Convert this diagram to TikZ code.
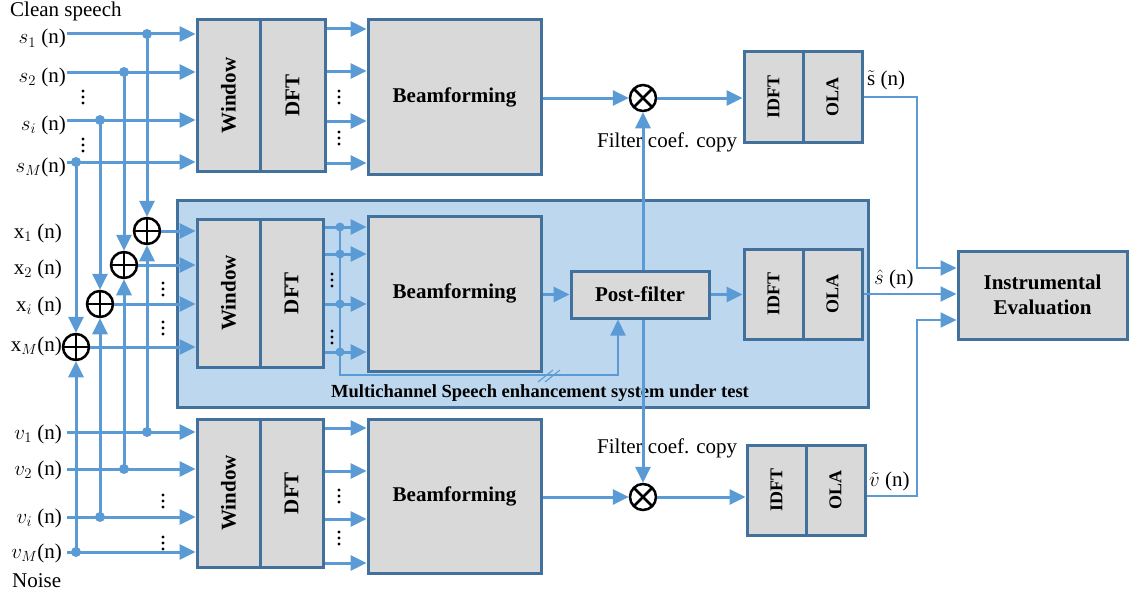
\RequirePackage{fix-cm}
\documentclass[tikz,border=0pt]{standalone}
\usepackage{fontspec}
\setmainfont{Liberation Serif}
\usepackage{graphicx}
\usetikzlibrary{arrows.meta,calc}

\definecolor{lineblue}{HTML}{5B9BD5}
\definecolor{boxedge}{HTML}{41719C}
\definecolor{boxgray}{HTML}{D9D9D9}
\definecolor{regionfill}{HTML}{BDD7EE}

\begin{document}
\begin{tikzpicture}[x=1pt,y=-1pt,
  arrowtip/.style={-{Triangle[length=16pt,width=15pt]}},
  sig/.style={draw=lineblue, line width=3pt, arrowtip},
  thinsig/.style={draw=lineblue, line width=2pt, arrowtip},
  box/.style={draw=boxedge, fill=boxgray, line width=3pt, inner sep=0pt,
    font=\bfseries\fontsize{21}{25}\selectfont},
  smallbox/.style={box, font=\bfseries\fontsize{18}{22}\selectfont},
  region/.style={draw=boxedge, fill=regionfill, line width=3pt, inner sep=0pt},
  lbl/.style={inner sep=0pt, font=\fontsize{21}{25}\selectfont},
  captext/.style={inner sep=0pt, font=\bfseries\fontsize{18.5}{22}\selectfont},
  adder/.style={circle, draw=black, line width=2.5pt, minimum size=26pt, inner sep=0pt,
    path picture={\draw[line width=2.5pt] (path picture bounding box.north) -- (path picture bounding box.south)
      (path picture bounding box.west) -- (path picture bounding box.east);}},
  mult/.style={circle, draw=black, line width=2.5pt, minimum size=26pt, inner sep=0pt,
    path picture={\draw[line width=2.5pt] (path picture bounding box.north west) -- (path picture bounding box.south east)
      (path picture bounding box.south west) -- (path picture bounding box.north east);}},
  jdot/.style={fill=lineblue},
  vdts/.pic={\foreach \k in {-6,0,6} \fill[black] (0,\k) circle (1.6pt);}
]
\fill[white] (0,0) rectangle (1129,594);
\useasboundingbox (0,0) rectangle (1129,594);

% system under test
\node[region, minimum width=691pt, minimum height=207pt] (sys) at (522.5,303.5) {};
\node[captext, anchor=base] (syscap) at (540,397) {Multichannel Speech enhancement system under test};

% analysis chains
\node[box, minimum width=63pt, minimum height=151pt] (win1) at (228.5,95.5) {\rotatebox{90}{Window}};
\node[box, minimum width=65pt, minimum height=151pt] (dft1) at (292.5,95.5) {\rotatebox{90}{DFT}};
\node[box, minimum width=173pt, minimum height=154pt] (bf1) at (454.5,97) {Beamforming};

\node[box, minimum width=63pt, minimum height=148pt] (win2) at (228.5,293) {\rotatebox{90}{Window}};
\node[box, minimum width=63pt, minimum height=148pt] (dft2) at (291.5,293) {\rotatebox{90}{DFT}};
\node[box, minimum width=173pt, minimum height=155pt] (bf2) at (454.5,293.5) {Beamforming};
\node[box, minimum width=138pt, minimum height=47pt] (pf) at (640,294.5) {Post-filter};

\node[box, minimum width=63pt, minimum height=148pt] (win3) at (228.5,493) {\rotatebox{90}{Window}};
\node[box, minimum width=63pt, minimum height=148pt] (dft3) at (291.5,493) {\rotatebox{90}{DFT}};
\node[box, minimum width=173pt, minimum height=154pt] (bf3) at (454.5,496) {Beamforming};

% synthesis
\node[smallbox, minimum width=59pt, minimum height=90pt] (idft1) at (773.5,97) {\rotatebox{90}{IDFT}};
\node[smallbox, minimum width=59pt, minimum height=90pt] (ola1) at (832.5,97) {\rotatebox{90}{OLA}};
\node[smallbox, minimum width=59pt, minimum height=90pt] (idft2) at (773.5,294) {\rotatebox{90}{IDFT}};
\node[smallbox, minimum width=59pt, minimum height=90pt] (ola2) at (832.5,294) {\rotatebox{90}{OLA}};
\node[smallbox, minimum width=59pt, minimum height=90pt] (idft3) at (776.5,490) {\rotatebox{90}{IDFT}};
\node[smallbox, minimum width=59pt, minimum height=90pt] (ola3) at (835.5,490) {\rotatebox{90}{OLA}};

\node[box, minimum width=169pt, minimum height=88pt, align=center] (ie) at (1042.5,295) {Instrumental\\Evaluation};

% texts
\node[lbl, anchor=base west] (tclean) at (10,17) {Clean speech};
\node[lbl, anchor=base west] (tnoise) at (12,587) {Noise};
\node[lbl, anchor=base east] (ls1) at (66,44) {$s_1$ (n)};
\node[lbl, anchor=base east] (ls2) at (66,82) {$s_2$ (n)};
\node[lbl, anchor=base east] (lsi) at (66,130) {$s_i$ (n)};
\node[lbl, anchor=base east] (lsM) at (66,172) {$s_M$(n)};
\node[lbl, anchor=base east] (lx1) at (62,238) {x$_1$ (n)};
\node[lbl, anchor=base east] (lx2) at (62,274) {x$_2$ (n)};
\node[lbl, anchor=base east] (lxi) at (62,311) {x$_i$ (n)};
\node[lbl, anchor=base east] (lxM) at (62,351) {x$_M$(n)};
\node[lbl, anchor=base east] (lv1) at (62,439) {$v_1$ (n)};
\node[lbl, anchor=base east] (lv2) at (62,475) {$v_2$ (n)};
\node[lbl, anchor=base east] (lvi) at (62,523) {$v_i$ (n)};
\node[lbl, anchor=base east] (lvM) at (62,558) {$v_M$(n)};
\node[lbl, anchor=base west] (fc1) at (597,147) {Filter coef. copy};
\node[lbl, anchor=base west] (fc2) at (597,453) {Filter coef. copy};
\node[lbl, anchor=base west] (lso) at (867,85) {$\tilde{\mathrm{s}}$ (n)};
\node[lbl, anchor=base west] (lsh) at (874,284) {$\hat{s}$ (n)};
\node[lbl, anchor=base west] (lvo) at (869,486) {$\tilde{v}$ (n)};

% adders and multipliers
\node[adder] (a1) at (147,231) {};
\node[adder] (a2) at (124,265) {};
\node[adder] (ai) at (100,304) {};
\node[adder] (aM) at (76,347) {};
\node[mult] (mt) at (643,98) {};
\node[mult] (mb) at (643,497) {};

% input points and junctions
\coordinate (s1) at (67,34);  \coordinate (js1) at (147,34);
\coordinate (s2) at (67,72);  \coordinate (js2) at (124,72);
\coordinate (si) at (67,120); \coordinate (jsi) at (100,120);
\coordinate (sM) at (67,162); \coordinate (jsM) at (76,162);
\coordinate (v1) at (67,432); \coordinate (jv1) at (147,432);
\coordinate (v2) at (67,469); \coordinate (jv2) at (124,469);
\coordinate (vi) at (67,517); \coordinate (jvi) at (100,517);
\coordinate (vM) at (67,552); \coordinate (jvM) at (76,552);

% clean speech and noise into their windows
\foreach \p in {s1,s2,si,sM} \draw[sig] (\p) -- (\p -| win1.west);
\foreach \p in {v1,v2,vi,vM} \draw[sig] (\p) -- (\p -| win3.west);

% mixing
\draw[sig] (js1) -- (a1); \draw[sig] (jv1) -- (a1);
\draw[sig] (js2) -- (a2); \draw[sig] (jv2) -- (a2);
\draw[sig] (jsi) -- (ai); \draw[sig] (jvi) -- (ai);
\draw[sig] (jsM) -- (aM); \draw[sig] (jvM) -- (aM);
\foreach \a in {a1,a2,ai,aM} \draw[sig] (\a) -- (\a -| win2.west);

\foreach \j in {js1,js2,jsi,jsM,jv1,jv2,jvi,jvM} \fill[jdot] (\j) circle (5pt);

% frequency bins into beamformers
\foreach \yy in {29,71,121,163} \draw[sig] (dft1.east |- 0,\yy) -- (bf1.west |- 0,\yy);
\foreach \yy in {227,254,304,352} \draw[sig] (dft2.east |- 0,\yy) -- (bf2.west |- 0,\yy);
\foreach \yy in {428,471,519,563} \draw[sig] (dft3.east |- 0,\yy) -- (bf3.west |- 0,\yy);

% side branch to the post-filter
\coordinate (fbA) at (340,227);
\coordinate (fbB) at (340,375);
\coordinate (fbC) at (618,375);
\draw[thinsig] (fbA) -- (fbB) -- (fbC) -- (fbC |- pf.south);
\foreach \yy in {227,254,304,352} \fill[jdot] (340,\yy) circle (4.5pt);
\draw[draw=lineblue, line width=1.1pt] (538,382) -- (553,370) (545,382) -- (560,370);

% dots for the omitted channels
\pic at (83,97) {vdts};   \pic at (83,145) {vdts};
\pic at (339,97) {vdts};  \pic at (339,138) {vdts};
\pic at (163,289) {vdts}; \pic at (163,328) {vdts};
\pic at (332,280) {vdts}; \pic at (332,337) {vdts};
\pic at (163,501) {vdts}; \pic at (163,543) {vdts};
\pic at (339,496) {vdts}; \pic at (339,538) {vdts};

% beamformer outputs and filter copy
\draw[sig] (bf1.east |- mt) -- (mt);
\draw[sig] (mt) -- (mt -| idft1.west);
\draw[sig] (pf.north -| mt) -- (mt);
\draw[sig] (bf2.east |- pf) -- (pf);
\draw[sig] (pf) -- (pf -| idft2.west);
\draw[sig] (pf.south -| mb) -- (mb);
\draw[sig] (bf3.east |- mb) -- (mb);
\draw[sig] (mb) -- (mb -| idft3.west);

% signals to the evaluation
\coordinate (c1) at (917,268);
\coordinate (c3) at (917,320);
\draw[thinsig] (ola1.east) -| (c1) -- (c1 -| ie.west);
\draw[thinsig] (ola2.east) -- (ola2.east -| ie.west);
\draw[thinsig] (ola3.east |- 0,496) -| (c3) -- (c3 -| ie.west);
\end{tikzpicture}
\end{document}
